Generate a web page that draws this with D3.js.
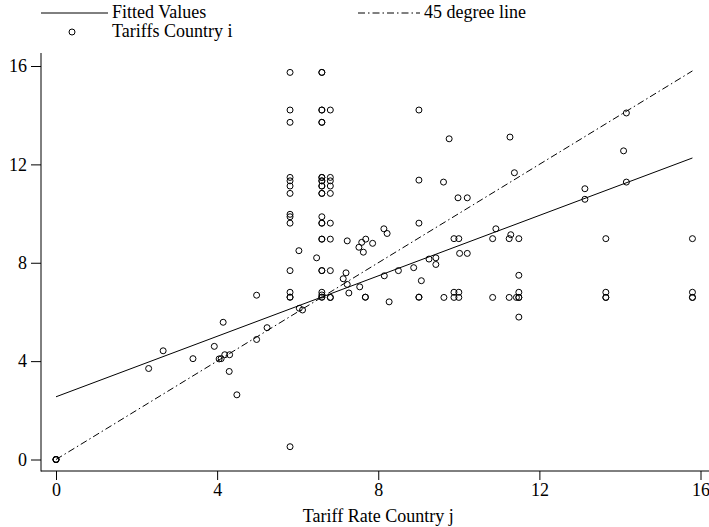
<!DOCTYPE html>
<html>
<head>
<meta charset="utf-8">
<script src="https://cdn.jsdelivr.net/npm/d3@7"></script>
<style>
  html, body { margin: 0; padding: 0; background: #fff; }
  svg { display: block; }
  text { font-family: "Liberation Serif", "Times New Roman", serif; fill: #000; }
</style>
</head>
<body>
<svg id="chart" width="709" height="527"></svg>
<script>
// ---- Data ----
const pointsX = [
  0, 0, 0, 0,
  2.3, 2.66, 3.4, 3.93, 4.05, 4.1, 4.15, 4.19, 4.31, 4.3, 4.49, 4.98, 4.98, 5.24,
  5.81, 5.81, 5.81, 5.81, 5.81, 5.81, 5.81, 5.81, 5.81, 5.81, 5.81, 5.81, 5.81, 5.81, 5.81,
  6.6, 6.6, 6.6, 6.6, 6.6, 6.6, 6.6, 6.6, 6.6, 6.6, 6.6, 6.6, 6.6, 6.6, 6.6, 6.6, 6.6, 6.6, 6.6, 6.6, 6.6, 6.6, 6.6, 6.6, 6.6,
  6.81, 6.81, 6.81, 6.81, 6.81, 6.81, 6.81, 6.81, 6.81, 6.81,
  6.03, 6.47, 6.04, 6.12,
  7.13, 7.2, 7.23, 7.23, 7.27, 7.52, 7.54, 7.59, 7.63, 7.69, 7.68, 7.68, 7.86,
  8.14, 8.22, 8.15, 8.27, 8.5, 8.88,
  9.01, 9.01, 9.01, 9.01, 9.01, 9.07, 9.26, 9.43, 9.43, 9.62, 9.63, 9.76,
  9.88, 9.88, 10.0, 10.0, 9.88, 10.0, 9.98, 10.21, 10.02, 10.21,
  10.84, 10.84, 10.92, 11.25, 11.25, 11.27, 11.29, 11.38, 11.43, 11.49, 11.49, 11.49, 11.49, 11.49, 11.49,
  13.13, 13.13, 13.65, 13.65, 13.65, 13.65, 14.09, 14.16, 14.16,
  15.8, 15.8, 15.8, 15.8
];
const pointsY = [
  0, 0, 0, 0,
  3.7, 4.42, 4.1, 4.6, 4.09, 4.1, 5.58, 4.26, 4.26, 3.58, 2.63, 4.88, 6.68, 5.36,
  15.74, 14.21, 13.71, 11.47, 11.33, 11.12, 10.82, 9.97, 9.87, 9.61, 7.68, 6.8, 6.6, 6.6, 0.52,
  15.74, 15.74, 14.21, 14.21, 13.71, 13.71, 11.47, 11.47, 11.33, 11.33, 11.12, 11.12, 10.82, 10.82, 9.87, 9.61, 9.61, 8.96, 8.96, 7.68, 7.68, 6.8, 6.69, 6.6, 6.6,
  14.21, 11.47, 11.33, 11.12, 10.82, 9.61, 8.96, 7.68, 6.59, 6.59,
  8.49, 8.2, 6.15, 6.08,
  7.35, 7.59, 7.12, 8.89, 6.77, 8.63, 7.02, 8.83, 8.43, 8.96, 6.6, 6.6, 8.79,
  9.38, 9.19, 7.47, 6.41, 7.68, 7.8,
  14.21, 11.36, 9.61, 6.6, 6.6, 7.27, 8.15, 8.2, 7.93, 11.28, 6.59, 13.04,
  6.59, 6.8, 6.59, 6.8, 8.98, 8.98, 10.64, 10.64, 8.38, 8.38,
  8.98, 6.59, 9.38, 8.98, 6.59, 13.11, 9.14, 11.66, 6.59, 6.59, 6.59, 6.8, 8.98, 7.49, 5.79,
  11.01, 10.58, 8.98, 6.8, 6.59, 6.59, 12.55, 14.09, 11.28,
  8.98, 6.8, 6.59, 6.59
];
const fittedX = [0, 15.8];
const fittedY = [2.55, 12.26];
const degreeX = [0, 15.8];
const degreeY = [0, 15.8];
const xTicks = [0, 4, 8, 12, 16];
const yTicks = [0, 4, 8, 12, 16];
const legendLabels = ["Fitted Values", "45 degree line", "Tariffs Country i"];
const xTitle = "Tariff Rate Country j";

// ---- Layout ----
const svg = d3.select("#chart");
const fontSize = 18;
const x = d3.scaleLinear().domain([0, 16]).range([56, 700.5]);
const y = d3.scaleLinear().domain([0, 16]).range([459.5, 66]);
const axisLeftX = 41, axisBottomY = 471, plotTop = 53, plotRight = 709;

// Frame lines
svg.append("line").attr("x1", axisLeftX).attr("x2", axisLeftX)
  .attr("y1", plotTop).attr("y2", axisBottomY + 0.5)
  .attr("stroke", "#000").attr("stroke-width", 1);
svg.append("line").attr("x1", axisLeftX).attr("x2", plotRight)
  .attr("y1", axisBottomY).attr("y2", axisBottomY)
  .attr("stroke", "#000").attr("stroke-width", 1);

// Axes (ticks + labels) via d3 axes
const xAxis = d3.axisBottom(x).tickValues(xTicks).tickSize(9).tickPadding(3).tickFormat(d3.format("d"));
const gx = svg.append("g").attr("transform", `translate(0,${axisBottomY})`).call(xAxis);
gx.select(".domain").remove();
gx.selectAll("text").attr("font-size", fontSize).attr("font-family", "Liberation Serif");

const yAxis = d3.axisLeft(y).tickValues(yTicks).tickSize(10).tickPadding(4).tickFormat(d3.format("d"));
const gy = svg.append("g").attr("transform", `translate(${axisLeftX},0)`).call(yAxis);
gy.select(".domain").remove();
gy.selectAll("text").attr("font-size", fontSize).attr("font-family", "Liberation Serif");

// X title
svg.append("text").attr("x", x(8)).attr("y", 522)
  .attr("text-anchor", "middle").attr("font-size", fontSize).text(xTitle);

// Lines
const line = d3.line().x(d => x(d[0])).y(d => y(d[1]));
svg.append("path").datum(fittedX.map((v, i) => [v, fittedY[i]]))
  .attr("d", line).attr("fill", "none").attr("stroke", "#000").attr("stroke-width", 1);
svg.append("path").datum(degreeX.map((v, i) => [v, degreeY[i]]))
  .attr("d", line).attr("fill", "none").attr("stroke", "#000").attr("stroke-width", 1)
  .attr("stroke-dasharray", "7,3,1.5,3");

// Points
const pts = pointsX.map((v, i) => [v, pointsY[i]]);
svg.append("g").selectAll("circle").data(pts).join("circle")
  .attr("cx", d => x(d[0])).attr("cy", d => y(d[1])).attr("r", 3)
  .attr("fill", "none").attr("stroke", "#000").attr("stroke-width", 1);

// Legend
const lg = svg.append("g");
lg.append("line").attr("x1", 41).attr("x2", 108).attr("y1", 13).attr("y2", 13)
  .attr("stroke", "#000").attr("stroke-width", 1);
lg.append("text").attr("x", 112).attr("y", 18).attr("font-size", fontSize).text(legendLabels[0]);
lg.append("line").attr("x1", 358).attr("x2", 420).attr("y1", 13).attr("y2", 13)
  .attr("stroke", "#000").attr("stroke-width", 1).attr("stroke-dasharray", "7,3,1.5,3");
lg.append("text").attr("x", 424).attr("y", 18).attr("font-size", fontSize).text(legendLabels[1]);
lg.append("circle").attr("cx", 72).attr("cy", 32).attr("r", 3)
  .attr("fill", "none").attr("stroke", "#000").attr("stroke-width", 1);
lg.append("text").attr("x", 112).attr("y", 37).attr("font-size", fontSize).text(legendLabels[2]);
</script>
</body>
</html>
